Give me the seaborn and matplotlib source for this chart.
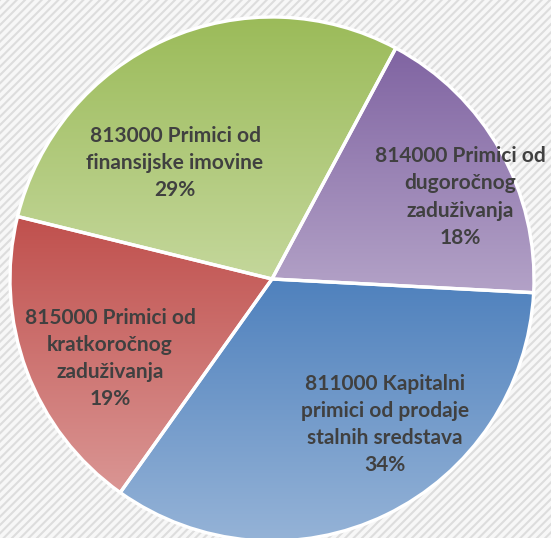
import numpy as np
import matplotlib
matplotlib.use("Agg")
import matplotlib.pyplot as plt
import matplotlib.colors as mcolors
from matplotlib.patches import Rectangle
import seaborn as sns

# ---- data ----
categories = [
    "811000 Kapitalni\nprimici od prodaje\nstalnih sredstava",
    "815000 Primici od\nkratkoročnog\nzaduživanja",
    "813000 Primici od\nfinansijske imovine",
    "814000 Primici od\ndugoročnog\nzaduživanja",
]
values = [34, 19, 29, 18]

# ---- styles ----
top_colors = ["#4F81BD", "#C0504D", "#9BBB59", "#8064A2"]
bottom_colors = ["#95B3D7", "#DA9694", "#C4D79B", "#B3A2C7"]
label_pos = [(0.431, -0.555), (-0.618, -0.304), (-0.370, 0.443), (0.718, 0.313)]

sns.set_theme(style="white")
plt.rcParams["font.family"] = ["Lato", "DejaVu Sans"]
plt.rcParams["hatch.linewidth"] = 1.5
plt.rcParams["hatch.color"] = "#dddddd"

W, H = 551, 538
fig = plt.figure(figsize=(W / 100, H / 100), dpi=100)
fig.patch.set_facecolor("#f7f7f7")
bg = Rectangle((0, 0), 1, 1, transform=fig.transFigure, facecolor="#f7f7f7",
               edgecolor="#dddddd", hatch="////", linewidth=0, zorder=-5)
fig.patches.append(bg)

ax = fig.add_axes([0, 0, 1, 1])
ax.set_facecolor("none")
ax.set_zorder(1)

cx, cy, R = 272, 279, 262
wedges, _ = ax.pie(values, startangle=-3, counterclock=False,
                   wedgeprops=dict(edgecolor="white", linewidth=2.4, facecolor="none"))

for w, c0, c1 in zip(wedges, top_colors, bottom_colors):
    w.set_zorder(3)
    ext = w.get_path().get_extents()
    n = 256
    a = np.array(mcolors.to_rgb(c0))
    b = np.array(mcolors.to_rgb(c1))
    t = np.linspace(0, 1, n)[:, None]
    grad = (a * (1 - t) + b * t)[:, None, :]
    im = ax.imshow(grad, extent=(ext.x0, ext.x1, ext.y0, ext.y1), origin="upper",
                   aspect="auto", interpolation="bilinear", zorder=2)
    im.set_clip_path(w)

total = sum(values)
for lab, v, (x, y) in zip(categories, values, label_pos):
    ax.text(x, y, f"{lab}\n{round(v / total * 100)}%", ha="center", va="center",
            fontsize=15, fontweight="bold", color="#404040", linespacing=1.44, zorder=5)

ax.set_aspect("auto")
ax.set_xlim(-cx / R, (W - cx) / R)
ax.set_ylim(-(H - cy) / R, cy / R)
ax.axis("off")

fig.savefig("out.png", dpi=100, facecolor=fig.get_facecolor())
